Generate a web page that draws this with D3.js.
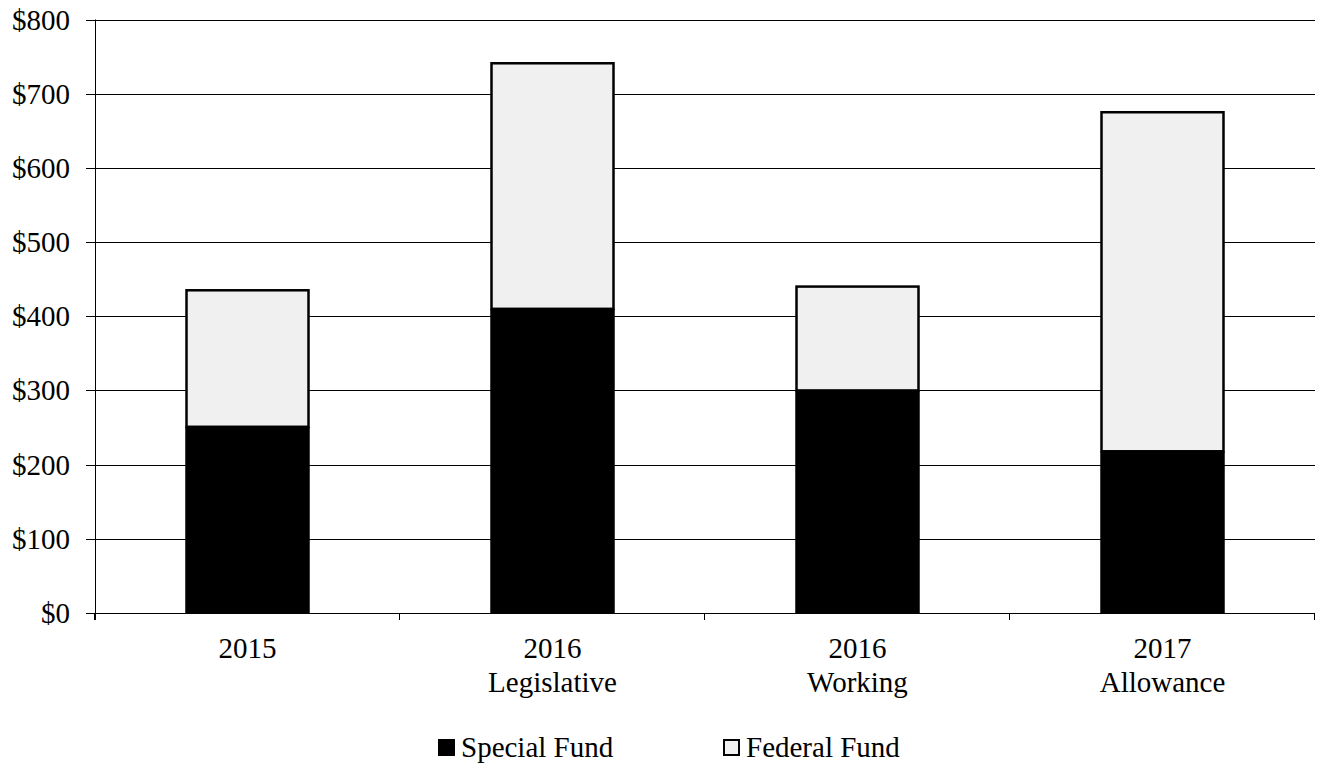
<!DOCTYPE html>
<html><head><meta charset="utf-8">
<script src="https://cdn.jsdelivr.net/npm/d3@7"></script>
<style>body{margin:0;background:#fff}svg{display:block}text{font-family:"Liberation Serif","Times New Roman",serif;fill:#000}</style>
</head><body>
<svg id="c" width="1320" height="768"></svg>
<script>
const categories = [["2015"], ["2016", "Legislative"], ["2016", "Working"], ["2017", "Allowance"]];
const specialFund = [251, 410, 300, 218];
const federalFund = [184, 331, 140, 457];
const yTicks = [0, 100, 200, 300, 400, 500, 600, 700, 800];
const seriesNames = ["Special Fund", "Federal Fund"];

(function () {
const svg = d3.select("#c");
const pL = 95, pR = 1315, pT = 19.5, pB = 613;
const FS = 29;
const x = d3.scaleBand().domain(d3.range(categories.length)).range([pL, pR]).paddingInner(0).paddingOuter(0);
const y = d3.scaleLinear().domain([0, 800]).range([pB, pT]);
const bw = x.bandwidth() * 0.4;

// gridlines
svg.append("g").selectAll("line").data(yTicks).join("line")
  .attr("x1", pL - 9).attr("x2", pR)
  .attr("y1", d => Math.round(y(d)) + 0.5).attr("y2", d => Math.round(y(d)) + 0.5)
  .attr("stroke", "#000").attr("stroke-width", 1);
// y labels
svg.append("g").selectAll("text").data(yTicks).join("text")
  .attr("x", 70).attr("y", d => y(d) + 10).attr("text-anchor", "end")
  .attr("font-size", FS).text(d => "$" + d);
// y axis
svg.append("line").attr("x1", pL + 0.5).attr("x2", pL + 0.5).attr("y1", pT).attr("y2", pB + 7).attr("stroke", "#000");
// x ticks
const bounds = d3.range(categories.length + 1).map(i => i < categories.length ? x(i) : pR);
svg.append("g").selectAll("line").data(bounds).join("line")
  .attr("x1", d => Math.round(d) - 0.5).attr("x2", d => Math.round(d) - 0.5)
  .attr("y1", pB).attr("y2", pB + 7).attr("stroke", "#000");

// bars
const g = svg.append("g");
categories.forEach((c, i) => {
  const cx = x(i) + x.bandwidth() / 2;
  const s = specialFund[i], f = federalFund[i];
  g.append("rect").attr("x", cx - bw / 2).attr("width", bw)
    .attr("y", y(s + f)).attr("height", y(s) - y(s + f))
    .attr("fill", "#f0f0f0").attr("stroke", "#000").attr("stroke-width", 2.5);
  g.append("rect").attr("x", cx - bw / 2 - 1.25).attr("width", bw + 2.5)
    .attr("y", y(s)).attr("height", y(0) - y(s))
    .attr("fill", "#000");
  const t = svg.append("text").attr("text-anchor", "middle").attr("font-size", FS);
  c.forEach((line, j) => t.append("tspan").attr("x", cx).attr("y", 658 + j * 34).text(line));
});

// legend
const lg = svg.append("g");
const items = [{name: seriesNames[0], x: 438, fill: "#000"}, {name: seriesNames[1], x: 723, fill: "#f0f0f0"}];
items.forEach(it => {
  lg.append("rect").attr("x", it.x + 1).attr("y", 740).attr("width", 15).attr("height", 15)
    .attr("fill", it.fill).attr("stroke", "#000").attr("stroke-width", 2);
  lg.append("text").attr("x", it.x + 23).attr("y", 757).attr("font-size", FS).text(it.name);
});
})();
</script>
</body></html>
